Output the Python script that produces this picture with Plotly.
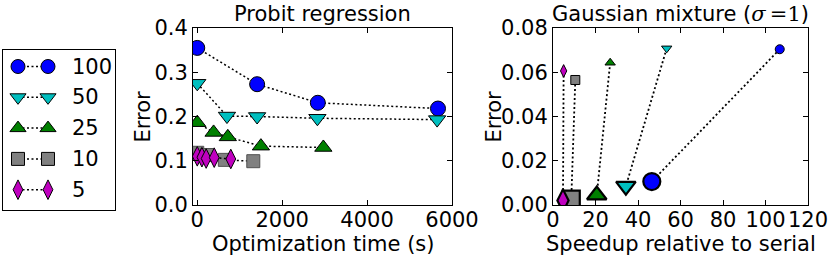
import plotly.graph_objects as go

W, H = 831, 256

# ---------------- data ----------------
labels = ["100", "50", "25", "10", "5"]
colors = ["#0000ff", "#00bfbf", "#008000", "#808080", "#bf00bf"]
symbols = ["circle", "triangle-down", "triangle-up", "square", "diamond-tall"]

# Probit regression: optimization time (s) vs error
probit_time = {
    "100": [0, 1410, 2840, 5670],
    "50": [0, 700, 1410, 2830, 5650],
    "25": [0, 385, 720, 1500, 2970],
    "10": [0, 230, 650, 1320],
    "5": [0, 110, 210, 400, 790],
}
probit_err = {
    "100": [0.355, 0.273, 0.231, 0.218],
    "50": [0.275, 0.201, 0.200, 0.196, 0.193],
    "25": [0.186, 0.164, 0.154, 0.133, 0.130],
    "10": [0.118, 0.113, 0.102, 0.099],
    "5": [0.110, 0.108, 0.105, 0.107, 0.104],
}

# Gaussian mixture: [small marker, large marker]
gm_speedup = {
    "100": [106.7, 46.5],
    "50": [53.5, 34.3],
    "25": [26.9, 20.6],
    "10": [10.5, 8.6],
    "5": [5.0, 4.7],
}
gm_err = {
    "100": [0.0704, 0.0106],
    "50": [0.0708, 0.0085],
    "25": [0.0643, 0.0045],
    "10": [0.0565, 0.0027],
    "5": [0.0606, 0.0020],
}

probit_xticks = [0, 2000, 4000, 6000]
probit_yticks = [0.0, 0.1, 0.2, 0.3, 0.4]
gm_xticks = [0, 20, 40, 60, 80, 100, 120]
gm_yticks = [0.00, 0.02, 0.04, 0.06, 0.08]

# ---------------- layout helpers ----------------
def px_x(x):
    return x / W

def px_y(y):
    return 1 - y / H

FONT = "DejaVu Sans"
FS = 21
DOT = "2px,2.5px"

fig = go.Figure()

# left panel
for lab, col, sym in zip(labels, colors, symbols):
    size = {"circle": 15, "triangle-down": 15, "triangle-up": 15,
            "square": 13, "diamond-tall": 14}[sym]
    edge = "#505050" if lab == "10" else "black"
    fig.add_trace(go.Scatter(
        x=probit_time[lab], y=probit_err[lab], mode="lines+markers",
        line=dict(color="black", dash=DOT, width=1.5),
        xaxis="x", yaxis="y", showlegend=False,
        marker=dict(color=col, symbol=sym, size=size, opacity=1,
                    line=dict(color=edge, width=1)),
    ))

# right panel
for lab, col, sym in zip(labels, colors, symbols):
    small, big = 9, 17
    if sym == "diamond-tall":
        small, big = 9, 16
    fig.add_trace(go.Scatter(
        x=gm_speedup[lab], y=gm_err[lab], mode="lines+markers",
        line=dict(color="black", dash=DOT, width=1.8),
        xaxis="x2", yaxis="y2", showlegend=False,
        marker=dict(color=col, symbol=sym, size=[small, big], opacity=1,
                    line=dict(color="black", width=[1, 2.2])),
    ))

# legend drawn in its own small axis (pixel units inside the box)
box_w, box_h = 112, 160
for i, (lab, col, sym) in enumerate(zip(labels, colors, symbols)):
    yy = box_h - 16.5 - 30.8 * i
    size = 14 if sym != "square" else 13
    fig.add_trace(go.Scatter(
        x=[15, 45], y=[yy, yy], mode="lines+markers",
        line=dict(color="black", dash=DOT, width=1.5),
        xaxis="x3", yaxis="y3", showlegend=False, hoverinfo="skip",
        marker=dict(color=col, symbol=sym, size=size, opacity=1,
                    line=dict(color="black", width=1)),
    ))
    fig.add_annotation(x=67, y=yy, xref="x3", yref="y3", text=lab,
                       showarrow=False, xanchor="left", yanchor="middle",
                       font=dict(family=FONT, size=FS, color="black"))

axis_common = dict(
    showline=True, linecolor="black", linewidth=1, mirror="ticks",
    ticks="inside", ticklen=5, tickwidth=1, tickcolor="black",
    showgrid=False, zeroline=False, automargin=False,
    tickfont=dict(family=FONT, size=FS, color="black"),
)

fig.update_layout(
    template="none",
    width=W, height=H,
    margin=dict(l=0, r=0, t=0, b=0, pad=0),
    paper_bgcolor="white", plot_bgcolor="white",
    xaxis=dict(domain=[px_x(193), px_x(452)], range=[-100, 6000],
               tickvals=probit_xticks, anchor="y", ticklabelstandoff=-4,
               **axis_common),
    yaxis=dict(domain=[px_y(205), px_y(28)], range=[0, 0.4],
               tickvals=probit_yticks, tickformat=".1f", anchor="x",
               **axis_common),
    xaxis2=dict(domain=[px_x(553), px_x(808)], range=[0, 120],
                tickvals=gm_xticks, anchor="y2", ticklabelstandoff=-4,
                **axis_common),
    yaxis2=dict(domain=[px_y(205), px_y(28)], range=[0, 0.08],
                tickvals=gm_yticks, tickformat=".2f", anchor="x2",
                **axis_common),
    xaxis3=dict(domain=[px_x(3), px_x(115)], range=[0, box_w], anchor="y3",
                showline=True, linecolor="black", linewidth=1, mirror=True,
                showticklabels=False, ticks="", showgrid=False,
                zeroline=False, fixedrange=True, automargin=False),
    yaxis3=dict(domain=[px_y(210), px_y(50)], range=[0, box_h], anchor="x3",
                showline=True, linecolor="black", linewidth=1, mirror=True,
                showticklabels=False, ticks="", showgrid=False,
                zeroline=False, fixedrange=True, automargin=False),
    showlegend=False,
)

def ann(text, x, y, angle=0, xanchor="center", yanchor="middle"):
    fig.add_annotation(text=text, x=px_x(x), y=px_y(y), xref="paper",
                       yref="paper", showarrow=False, textangle=angle,
                       xanchor=xanchor, yanchor=yanchor,
                       font=dict(family=FONT, size=FS, color="black"))

ann("Probit regression", 322.5, 14)
ann("Gaussian mixture (<span style='font-family:DejaVu Serif'><i>σ</i>\u2009=1</span>)", 680, 14)
ann("Optimization time (s)", 322.5, 244)
ann("Speedup relative to serial", 681, 244)
ann("Error", 142, 116.5, angle=-90)
ann("Error", 493, 116.5, angle=-90)

fig.write_html(
    "out.html",
    config={"displayModeBar": False},
    post_script="document.body.style.margin='0';document.body.style.overflow='hidden';",
)
